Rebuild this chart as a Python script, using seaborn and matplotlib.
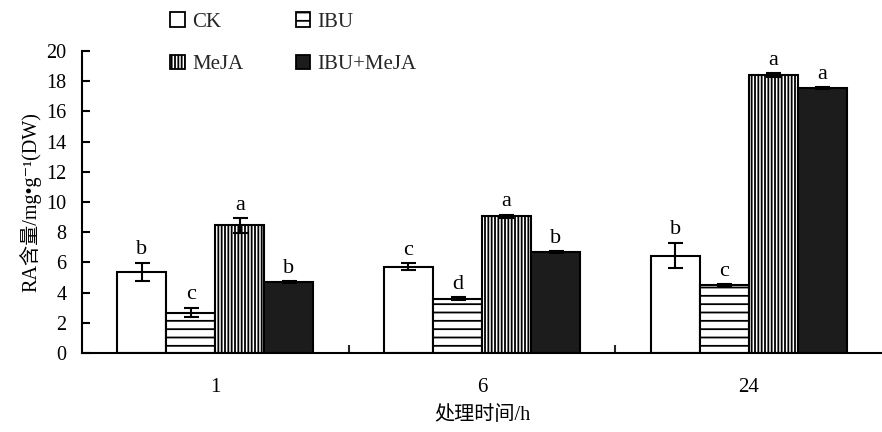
import matplotlib
matplotlib.use("Agg")
import matplotlib.pyplot as plt
from matplotlib.patches import Patch
import seaborn as sns
import pandas as pd
import numpy as np

# Treatment durations and groups
times = ["1", "6", "24"]
treatments = ["CK", "IBU", "MeJA", "IBU+MeJA"]

# RA content (mg/g DW), mean values per treatment across times
ck = [5.38, 5.72, 6.45]
ibu = [2.68, 3.60, 4.50]
meja = [8.45, 9.05, 18.40]
ibu_meja = [4.72, 6.68, 17.55]

# Standard deviations
ck_err = [0.60, 0.22, 0.85]
ibu_err = [0.32, 0.08, 0.05]
meja_err = [0.50, 0.12, 0.15]
ibu_meja_err = [0.06, 0.05, 0.05]

# Significance letters
ck_sig = ["b", "c", "b"]
ibu_sig = ["c", "d", "c"]
meja_sig = ["a", "a", "a"]
ibu_meja_sig = ["b", "b", "a"]

means = [ck, ibu, meja, ibu_meja]
errs = [ck_err, ibu_err, meja_err, ibu_meja_err]
sigs = [ck_sig, ibu_sig, meja_sig, ibu_meja_sig]

rows = []
for t_name, m, e, s in zip(treatments, means, errs, sigs):
    for i, tm in enumerate(times):
        rows.append({"time": tm, "treatment": t_name, "value": m[i], "err": e[i], "sig": s[i]})
df = pd.DataFrame(rows)

sns.set_theme(style="ticks")
plt.rcParams["font.family"] = ["Liberation Serif", "Noto Sans CJK SC", "DejaVu Serif"]
plt.rcParams["hatch.linewidth"] = 1.3
plt.rcParams["hatch.color"] = "black"

fig = plt.figure(figsize=(8.82, 4.32), dpi=100)
ax = fig.add_axes([82 / 882, 1 - 353 / 432, 800 / 882, (353 - 51) / 432])

fills = {"CK": "white", "IBU": "white", "MeJA": "white", "IBU+MeJA": "#1c1c1c"}
hatches = {"CK": "", "IBU": "--", "MeJA": "|||||", "IBU+MeJA": ""}

sns.barplot(data=df, x="time", y="value", hue="treatment", order=times,
            hue_order=treatments, palette=fills, width=0.735, gap=0,
            errorbar=None, legend=False, ax=ax, edgecolor="black", linewidth=1.5,
            saturation=1)

bars = [p for p in ax.patches]
for k, t_name in enumerate(treatments):
    sub = df[df["treatment"] == t_name].set_index("time").loc[times]
    for i in range(len(times)):
        bar = bars[k * len(times) + i]
        bar.set_hatch(hatches[t_name])
        bar.set_edgecolor("black")
        xc = bar.get_x() + bar.get_width() / 2
        v = sub["value"].iloc[i]
        e = sub["err"].iloc[i]
        ax.errorbar(xc, v, yerr=e, fmt="none", ecolor="black", elinewidth=1.5,
                    capsize=5.4, capthick=1.5, zorder=5)
        ax.text(xc, v + e + 0.55, sub["sig"].iloc[i], ha="center", va="baseline",
                fontsize=16, color="black")

ax.set_xlim(-0.5, 2.5)
ax.set_ylim(0, 20)
ax.set_yticks(np.arange(0, 21, 2))
ax.tick_params(axis="y", direction="in", length=6, width=1.5, pad=11,
               labelsize=14.5, colors="black")
ax.tick_params(axis="x", which="major", length=0, pad=18, labelsize=15, colors="black")
ax.set_xticks([0.5, 1.5], minor=True)
ax.tick_params(axis="x", which="minor", direction="in", length=6, width=1.5)

for side in ["top", "right"]:
    ax.spines[side].set_visible(False)
for side in ["left", "bottom"]:
    ax.spines[side].set_linewidth(1.5)
    ax.spines[side].set_color("black")

ax.set_xlabel("处理时间/h", fontsize=14.5, color="black")
ax.xaxis.set_label_coords(0.5, -(415 - 353) / 302, transform=ax.transAxes)
ax.xaxis.label.set_va("center")
ax.set_ylabel("RA含量/mg•g⁻¹(DW)", fontsize=14.5, color="black")
ax.yaxis.set_label_coords(-(82 - 30) / 800, 0.5)
ax.yaxis.label.set_va("center")

handles = [Patch(facecolor=fills[t], edgecolor="black", hatch=hatches[t], linewidth=1.3)
           for t in ["CK", "MeJA", "IBU", "IBU+MeJA"]]
labels = ["CK", "MeJA", "IBU", "IBU+MeJA"]
fig.legend(handles, labels, ncol=2, frameon=False, fontsize=15,
           loc="upper left", bbox_to_anchor=(162 / 882, 1 - 4 / 432),
           handlelength=0.7, handleheight=0.7, handletextpad=0.35,
           columnspacing=2.5, labelspacing=1.1, borderaxespad=0)

fig.savefig("out.png", dpi=100)
